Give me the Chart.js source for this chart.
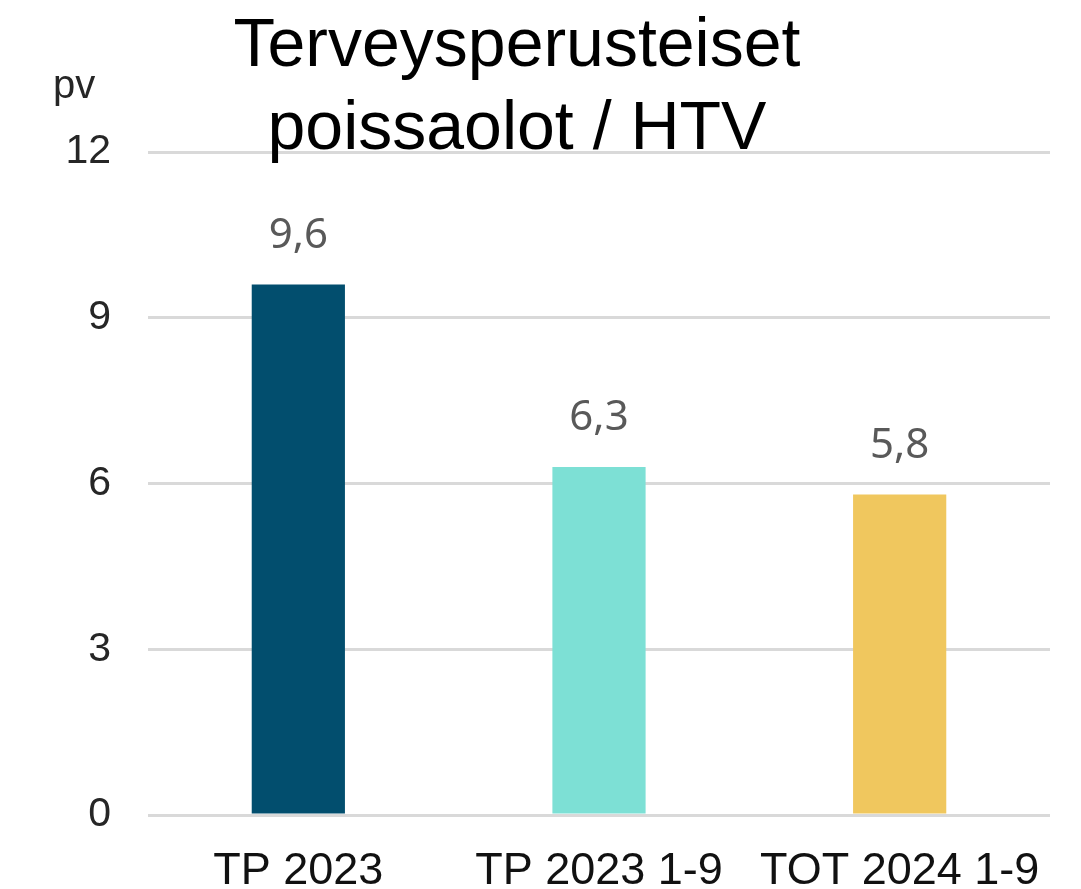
<!DOCTYPE html>
<html>
<head>
<meta charset="utf-8">
<script src="https://cdn.jsdelivr.net/npm/chart.js@4"></script>
<style>
  html, body { margin: 0; padding: 0; background: #fff; }
  #wrap { position: relative; width: 1081px; height: 889px; }
  #c { position: absolute; left: 0; top: 0; }
  .lab { font-family: "Liberation Sans", Arial, sans-serif; position: absolute; white-space: nowrap; }
  #title { left: 217px; width: 600px; top: 1px; text-align: center; font-size: 68px; line-height: 83px; color: #000; }
  #unit { left: 53px; top: 60px; font-size: 40px; line-height: 48px; color: #262626; }
</style>
</head>
<body>
<div id="wrap">
  <canvas id="c" width="1081" height="889"></canvas>
  <div id="title" class="lab">Terveysperusteiset<br>poissaolot / HTV</div>
  <div id="unit" class="lab">pv</div>
</div>
<script>
const categories = ["TP 2023", "TP 2023 1-9", "TOT 2024 1-9"];
const values = [9.6, 6.3, 5.8];
const barColors = ["#024E6E", "#7DE0D5", "#F0C75E"];
const yTicks = [0, 3, 6, 9, 12];

const FONT = '"Liberation Sans", Arial, sans-serif';

const valueLabels = {
  id: 'valueLabels',
  afterDatasetsDraw(chart) {
    const ctx = chart.ctx;
    const meta = chart.getDatasetMeta(0);
    ctx.save();
    ctx.font = '42px "Noto Sans", "Open Sans", sans-serif';
    ctx.fillStyle = '#595959';
    ctx.textAlign = 'center';
    ctx.textBaseline = 'alphabetic';
    meta.data.forEach((bar, i) => {
      ctx.fillText(values[i].toFixed(1).replace('.', ','), bar.x, bar.y - 37);
    });
    ctx.restore();
  }
};

new Chart(document.getElementById('c'), {
  type: 'bar',
  data: {
    labels: categories,
    datasets: [{
      data: values,
      backgroundColor: barColors,
      borderWidth: 0,
      barPercentage: 0.62,
      categoryPercentage: 0.5
    }]
  },
  options: {
    responsive: false,
    animation: false,
    devicePixelRatio: 1,
    layout: { padding: { top: 152, right: 31, left: 0, bottom: 0 } },
    plugins: { legend: { display: false }, title: { display: false }, tooltip: { enabled: false } },
    scales: {
      x: {
        grid: { display: false, drawTicks: false },
        border: { display: false },
        ticks: { color: '#111', font: { family: FONT, size: 45 }, padding: 30, maxRotation: 0, autoSkip: false },
        afterFit(scale) { scale.height = 74; }
      },
      y: {
        min: 0, max: 12,
        afterBuildTicks(scale) { scale.ticks = yTicks.map(v => ({ value: v })); },
        grid: { color: '#D9D9D9', lineWidth: 3, drawTicks: false },
        border: { display: false },
        ticks: { color: '#262626', font: { family: FONT, size: 41 }, padding: 37 },
        afterFit(scale) { scale.width = 148; }
      }
    }
  },
  plugins: [valueLabels]
});
</script>
</body>
</html>
